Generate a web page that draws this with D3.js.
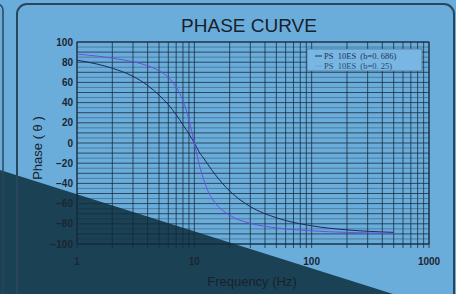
<!DOCTYPE html>
<html>
<head>
<meta charset="utf-8">
<script src="https://cdn.jsdelivr.net/npm/d3@7"></script>
<style>
  body { margin: 0; background: #6badda; }
  svg { display: block; }
</style>
</head>
<body>
<div id="chart-container"></div>
<script>
/**************************************************
 * Data
 **************************************************/
const freqs = [1, 1.5, 2, 3, 4, 5, 6, 7, 8, 9, 9.5, 10, 10.5, 11, 12, 13, 15, 20, 30, 50, 100, 200, 500];
const phaseB686 = [82, 78, 74, 66, 57, 47.5, 38, 28, 18, 9, 4.5, 0, -4.5, -9, -15, -21, -31, -47.5, -63, -74, -82, -86, -88.5];
const phaseB025 = [88, 86, 84, 80.5, 76.5, 71.5, 65, 55.5, 42, 23, 11.5, 0, -11, -21, -36, -47, -59, -71.5, -79.5, -84, -87, -88.5, -89.5];
const seriesNames = ["PS\u00A0\u00A010ES\u00A0\u00A0(b=0.\u00A0686)", "PS\u00A0\u00A010ES\u00A0\u00A0(b=0.\u00A025)"];
const xTicks = [1, 10, 100, 1000];
const yTicks = [100, 80, 60, 40, 20, 0, -20, -40, -60, -80, -100];

/**************************************************
 * Rendering
 **************************************************/
const W = 456, H = 294;
const svg = d3.select("#chart-container")
  .append("svg")
  .attr("width", W)
  .attr("height", H);

svg.append("rect").attr("width", W).attr("height", H).attr("fill", "#6badda");

// dark diagonal band in the photo
svg.append("polygon")
  .attr("points", [[0, 170], [393, 294], [0, 294]].map(p => p.join(",")).join(" "))
  .attr("fill", "#1b4155");

// panel frames
svg.append("rect")
  .attr("x", -20).attr("y", 4).attr("width", 23).attr("height", 320)
  .attr("rx", 6).attr("fill", "none").attr("stroke", "#2a465c").attr("stroke-width", 1.5);
svg.append("rect")
  .attr("x", 17).attr("y", 4).attr("width", 437).attr("height", 320)
  .attr("rx", 10).attr("fill", "none").attr("stroke", "#2a465c").attr("stroke-width", 2);

const x = d3.scaleLog().domain([1, 1000]).range([77, 429]);
const y = d3.scaleLinear().domain([-100, 100]).range([244, 42]);

const gridColor = "#16293b";

// horizontal grid
const hLines = d3.range(-100, 101, 5);
svg.append("g").selectAll("line")
  .data(hLines)
  .join("line")
  .attr("x1", x(1)).attr("x2", x(1000))
  .attr("y1", d => y(d)).attr("y2", d => y(d))
  .attr("stroke", gridColor)
  .attr("stroke-width", d => d % 10 === 0 ? 0.9 : 0.6)
  .attr("stroke-opacity", d => d % 10 === 0 ? 0.85 : 0.6);

// vertical log grid
const vLines = [];
[1, 10, 100].forEach(dec => {
  for (let k = 1; k < 10; k++) vLines.push(dec * k);
});
vLines.push(1000);
svg.append("g").selectAll("line")
  .data(vLines)
  .join("line")
  .attr("x1", d => x(d)).attr("x2", d => x(d))
  .attr("y1", y(100)).attr("y2", y(-100) + 4)
  .attr("stroke", gridColor)
  .attr("stroke-width", 0.9)
  .attr("stroke-opacity", 0.85);

// frame of plot
svg.append("rect")
  .attr("x", x(1)).attr("y", y(100))
  .attr("width", x(1000) - x(1)).attr("height", y(-100) - y(100))
  .attr("fill", "none").attr("stroke", gridColor).attr("stroke-width", 1);

// curves
const line = d3.line()
  .x(d => x(d[0]))
  .y(d => y(d[1]))
  .curve(d3.curveMonotoneX);

svg.append("path")
  .datum(freqs.map((f, i) => [f, phaseB686[i]]))
  .attr("d", line)
  .attr("fill", "none")
  .attr("stroke", "#1b2a5e")
  .attr("stroke-width", 1);

svg.append("path")
  .datum(freqs.map((f, i) => [f, phaseB025[i]]))
  .attr("d", line)
  .attr("fill", "none")
  .attr("stroke", "#6a4fe6")
  .attr("stroke-width", 1);

// legend
const lg = svg.append("g").attr("transform", "translate(307,49)");
lg.append("rect")
  .attr("width", 115).attr("height", 22)
  .attr("fill", "#78b6e3")
  .attr("stroke", "#3d6280").attr("stroke-width", 0.6);
lg.append("line").attr("x1", 8).attr("x2", 15).attr("y1", 7).attr("y2", 7)
  .attr("stroke", "#1b2a5e").attr("stroke-width", 1);
lg.append("line").attr("x1", 8).attr("x2", 15).attr("y1", 17).attr("y2", 17)
  .attr("stroke", "#6a4fe6").attr("stroke-width", 0.6).attr("stroke-opacity", 0.4);
seriesNames.forEach((s, i) => {
  lg.append("text")
    .attr("x", 17).attr("y", 7 + i * 10)
    .attr("dominant-baseline", "central")
    .attr("font-family", "'Liberation Serif', 'DejaVu Serif', serif")
    .attr("font-size", "8.5px")
    .attr("fill", i === 0 ? "#1f3454" : "#2f4a6a")
    .text(s);
});

// tick labels
svg.append("g").selectAll("text")
  .data(yTicks)
  .join("text")
  .attr("x", 73).attr("y", d => y(d))
  .attr("text-anchor", "end")
  .attr("dominant-baseline", "central")
  .attr("font-family", "'Liberation Sans', Arial, sans-serif")
  .attr("font-size", "10px")
  .attr("font-weight", "bold")
  .attr("fill", "#1b2633")
  .text(d => d < 0 ? "\u2212" + Math.abs(d) : d);

svg.append("g").selectAll("text")
  .data(xTicks)
  .join("text")
  .attr("x", d => x(d)).attr("y", 261)
  .attr("text-anchor", "middle")
  .attr("dominant-baseline", "central")
  .attr("font-family", "'Liberation Sans', Arial, sans-serif")
  .attr("font-size", "10px")
  .attr("font-weight", "bold")
  .attr("fill", "#1b2633")
  .text(d => d);

// titles
svg.append("text")
  .attr("x", 249).attr("y", 25)
  .attr("text-anchor", "middle")
  .attr("dominant-baseline", "central")
  .attr("font-family", "'Liberation Sans', Arial, sans-serif")
  .attr("font-size", "19px")
  .attr("fill", "#17212d")
  .text("PHASE CURVE");

svg.append("text")
  .attr("x", 252).attr("y", 281)
  .attr("text-anchor", "middle")
  .attr("dominant-baseline", "central")
  .attr("font-family", "'Liberation Sans', Arial, sans-serif")
  .attr("font-size", "13px")
  .attr("fill", "#17212d")
  .text("Frequency (Hz)");

svg.append("text")
  .attr("transform", "translate(37,148) rotate(-90)")
  .attr("text-anchor", "middle")
  .attr("dominant-baseline", "central")
  .attr("font-family", "'Liberation Sans', Arial, sans-serif")
  .attr("font-size", "13px")
  .attr("fill", "#17212d")
  .text("Phase ( \u03B8 )");
</script>
</body>
</html>
